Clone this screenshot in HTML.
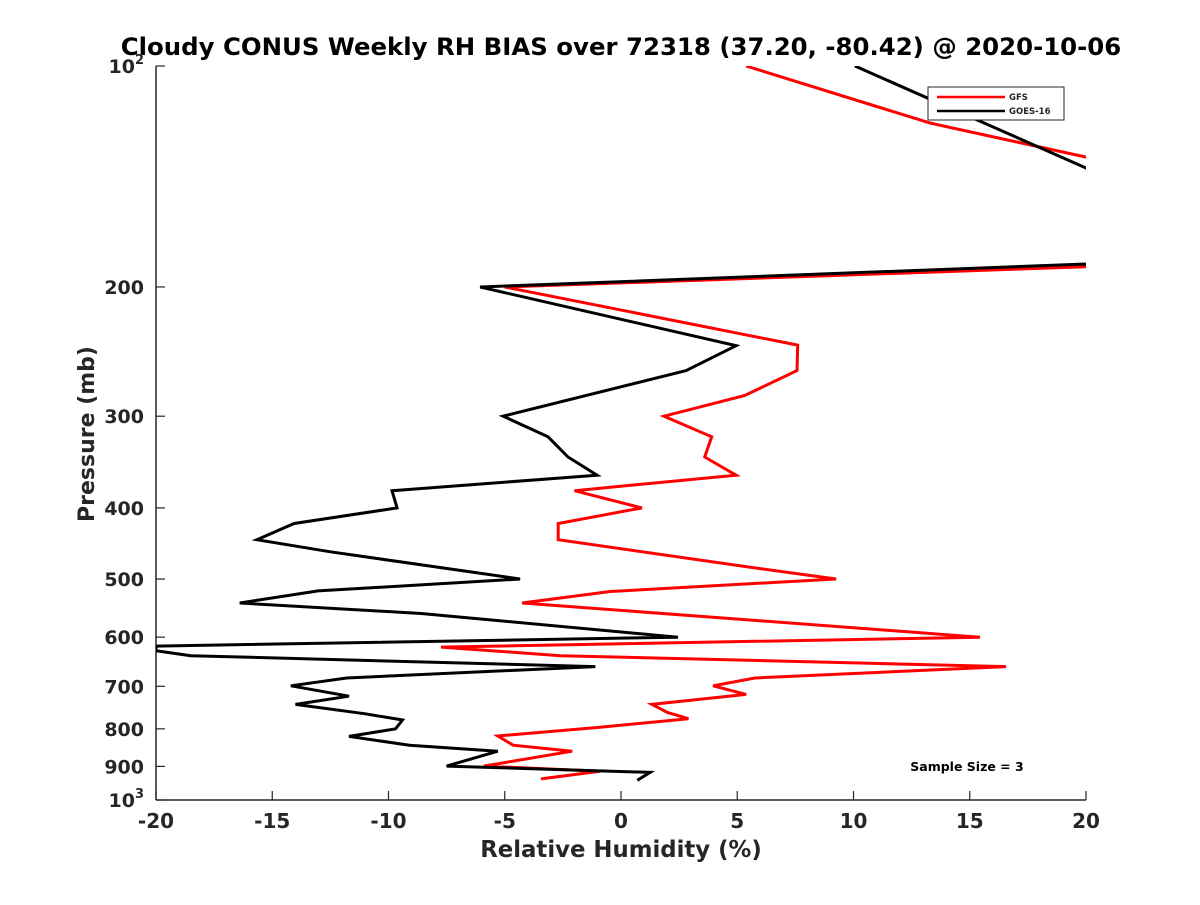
<!DOCTYPE html>
<html><head><meta charset="utf-8"><style>
body{margin:0;background:#fff}
text{font-family:"DejaVu Sans","Liberation Sans",sans-serif;font-weight:bold;fill:#262626}
</style></head><body>
<svg id="chart" width="1200" height="900" xmlns="http://www.w3.org/2000/svg">
<defs><clipPath id="clip"><rect x="156" y="66" width="930" height="734"/></clipPath></defs>
<rect width="1200" height="900" fill="#fff"/>
<text x="621" y="55" font-size="24.4" text-anchor="middle" style="fill:#000">Cloudy CONUS Weekly RH BIAS over 72318 (37.20, -80.42) @ 2020-10-06</text>
<g id="axes"></g>
<g id="series" clip-path="url(#clip)"></g>
<text x="621" y="857" font-size="22.8" text-anchor="middle">Relative Humidity (%)</text>
<text transform="translate(94,434) rotate(-90)" font-size="22" text-anchor="middle">Pressure (mb)</text>
<g>
<rect x="928" y="87" width="136" height="33" fill="#fff" stroke="#262626" stroke-width="1"/>
<line x1="937" y1="97" x2="1005" y2="97" stroke="#ff0000" stroke-width="2.5"/>
<text x="1009" y="100" font-size="8.5">GFS</text>
<line x1="937" y1="111" x2="1005" y2="111" stroke="#000" stroke-width="2.5"/>
<text x="1009" y="114" font-size="8.5">GOES-16</text>
</g>
<text x="967" y="771" font-size="12.5" text-anchor="middle" style="fill:#000">Sample Size = 3</text>
</svg>
<script>
const xTicks=[-20,-15,-10,-5,0,5,10,15,20];
const yTicks=[100,200,300,400,500,600,700,800,900,1000];
const gfsP=[100,119.6,156,183,200,240,260,281,300,320,341,361,379,400,420,442,482,500,520,539,600,619,636,658,682,699,718,741,760,775,796,818,842,858,899,914,936];
const gfsV=[5.38,13.3,30,30,-5,7.6,7.57,5.33,1.85,3.9,3.6,4.95,-2.0,0.9,-2.7,-2.7,5.6,9.25,-0.47,-4.26,15.44,-7.74,-2.6,16.56,5.76,3.96,5.38,1.33,2.0,2.9,-0.9,-5.3,-4.64,-2.1,-5.9,-0.9,-3.44];
const goesP=[100,190,181,200,240.5,260,300,320,341,361,379,400,420,442,459,500,519,539,557,600,617,626,636,658,682,699,722,741,763,778,800,819,842,858,899,917,940];
const goesV=[10.06,30,30,-6.06,4.95,2.8,-5.07,-3.14,-2.28,-1.03,-9.85,-9.63,-14.06,-15.66,-12.5,-4.34,-13.03,-16.4,-8.6,2.45,-20,-20,-18.5,-1.1,-11.8,-14.2,-11.7,-14,-11,-9.4,-9.7,-11.7,-9.1,-5.3,-7.5,1.25,0.7];
const NS='http://www.w3.org/2000/svg';
const X0=156,X1=1086,Y0=66,Y1=800;
function xs(v){return X0+(v+20)/40*(X1-X0);}
function ys(p){return Y0+Math.log10(p/100)*(Y1-Y0);}
function mk(tag,attrs,parent){const e=document.createElementNS(NS,tag);for(const k in attrs)e.setAttribute(k,attrs[k]);parent.appendChild(e);return e;}
const axes=document.getElementById('axes');
const xa=mk('line',{x1:X0,y1:Y1,x2:X1,y2:Y1,stroke:'#262626','stroke-width':1.5},axes);


const ya=mk('line',{x1:X0,y1:Y0,x2:X0,y2:Y1,stroke:'#262626','stroke-width':1.5},axes);


xTicks.forEach(t=>{
  const x=xs(t);
  mk('line',{x1:x,y1:Y1,x2:x,y2:Y1-9,stroke:'#262626','stroke-width':1.2},axes);
  const tx=mk('text',{x:x,y:828,'font-size':20,'text-anchor':'middle'},axes);
  tx.textContent=String(t);
  
  
});
yTicks.forEach(t=>{
  const y=ys(t);
  mk('line',{x1:X0,y1:y,x2:X0+9,y2:y,stroke:'#262626','stroke-width':1.2},axes);
  const tx=mk('text',{x:144,y:y+7,'font-size':19,'text-anchor':'end'},axes);
  if(t===100||t===1000){
    tx.textContent='10';
    const s=mk('tspan',{dy:-9,'font-size':13},tx);s.textContent=t===100?'2':'3';
  } else tx.textContent=String(t);
  
  
});
const ser=document.getElementById('series');
function line(P,V,color,name){
  const pts=P.map((p,i)=>xs(V[i]).toFixed(1)+','+ys(p).toFixed(1)).join(' ');
  const pl=mk('polyline',{points:pts,fill:'none',stroke:color,'stroke-width':3,'stroke-linejoin':'miter'},ser);
  
  
}
line(gfsP,gfsV,'#ff0000','gfs-line');
line(goesP,goesV,'#000000','goes16-line');
</script>
</body></html>
